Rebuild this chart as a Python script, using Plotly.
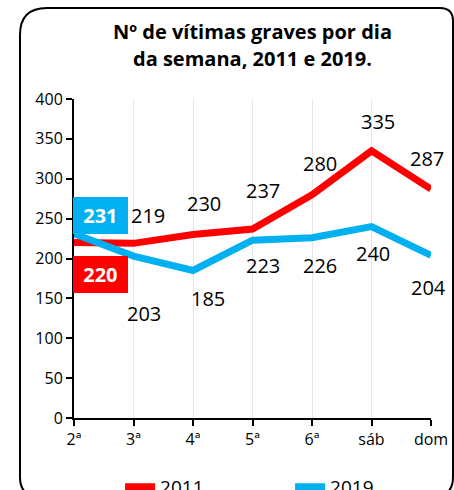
import plotly.graph_objects as go

days = ["2ª", "3ª", "4ª", "5ª", "6ª", "sáb", "dom"]
v2011 = [220, 219, 230, 237, 280, 335, 287]
v2019 = [231, 203, 185, 223, 226, 240, 204]

# label offsets (pixels) relative to the data point
off2011 = [(26, -32), (14, 28), (11, 31), (10, 38), (8, 31), (6, 29), (-4, 31)]
off2019 = [(26, 18), (10, -57), (15, -28), (10, -25), (8, -28), (1, -27), (-3, -32)]

title1 = "Nº de vítimas graves por dia"
title2 = "da semana, 2011 e 2019."

RED = "#FF0000"
BLUE = "#00B0F0"
FONT = "Open Sans"

xs = list(range(len(days)))

fig = go.Figure()
fig.add_trace(go.Scatter(x=xs, y=v2011, mode="lines", name="2011",
                         line=dict(color=RED, width=7)))
fig.add_trace(go.Scatter(x=xs, y=v2019, mode="lines", name="2019",
                         line=dict(color=BLUE, width=7)))

ann = []
for vals, offs, col in ((v2011, off2011, RED), (v2019, off2019, BLUE)):
    for i, (v, (dx, dy)) in enumerate(zip(vals, offs)):
        if i == 0:
            ann.append(dict(x=i, y=v, xref="x", yref="y", text="<b>&nbsp;%d&nbsp;</b>" % v,
                            showarrow=False, xshift=dx, yshift=dy, bgcolor=col, borderpad=5,
                            borderwidth=0, font=dict(family=FONT, size=20, color="white")))
        else:
            ann.append(dict(x=i, y=v, xref="x", yref="y", text=str(v), showarrow=False,
                            xshift=dx, yshift=dy, font=dict(family=FONT, size=20, color="black")))

# second title line
ann.append(dict(text="<b>%s</b>" % title2, x=0.5, xref="paper", y=(418 - 58) / 319, yref="paper",
                yanchor="middle", showarrow=False,
                font=dict(family=FONT, size=20, color="black")))

# rounded border
L, R, T, B = -0.1513, 1.0616, 1.2853, -0.2476
rxl, ryl = 27 / 357, 27 / 319
rxr, ryr = 13 / 357, 13 / 319
rxb, ryb = 20 / 357, 20 / 319
path = (f"M {L},{T-ryl} Q {L},{T} {L+rxl},{T} L {R-rxr},{T} Q {R},{T} {R},{T-ryr} "
        f"L {R},{B+ryb} Q {R},{B} {R-rxb},{B} L {L+rxb},{B} Q {L},{B} {L},{B+ryb} Z")

fig.update_layout(
    width=454, height=490,
    margin=dict(l=74, r=23, t=99, b=72, autoexpand=False),
    paper_bgcolor="white", plot_bgcolor="white",
    title=dict(text="<b>%s</b>" % title1,
               x=0.5, xref="paper", xanchor="center", y=1 - 32 / 490, yanchor="middle",
               font=dict(family=FONT, size=20, color="black")),
    xaxis=dict(range=[0, 6], tickmode="array", tickvals=xs, ticktext=days,
               showgrid=True, gridcolor="#E6E6E6", gridwidth=1,
               showline=True, linecolor="black", linewidth=2,
               ticks="outside", ticklen=6, tickcolor="black", tickwidth=1.5,
               tickfont=dict(family=FONT, size=16, color="black"), zeroline=False),
    yaxis=dict(range=[0, 400], dtick=50, showgrid=False,
               showline=True, linecolor="black", linewidth=2,
               ticks="outside", ticklen=6, tickcolor="black", tickwidth=1.5,
               tickfont=dict(family=FONT, size=16, color="black"), zeroline=False),
    showlegend=True,
    legend=dict(orientation="h", x=0.129, xanchor="left", y=-0.216, yanchor="middle",
                font=dict(family=FONT, size=19, color="black"),
                entrywidth=125, entrywidthmode="pixels", bgcolor="rgba(0,0,0,0)"),
    annotations=ann,
    shapes=[dict(type="path", path=path, xref="paper", yref="paper",
                 line=dict(color="black", width=2), fillcolor="rgba(0,0,0,0)", layer="above")],
)

fig.write_html("out.html", config={"displayModeBar": False},
               post_script="document.body.style.margin='0';")
